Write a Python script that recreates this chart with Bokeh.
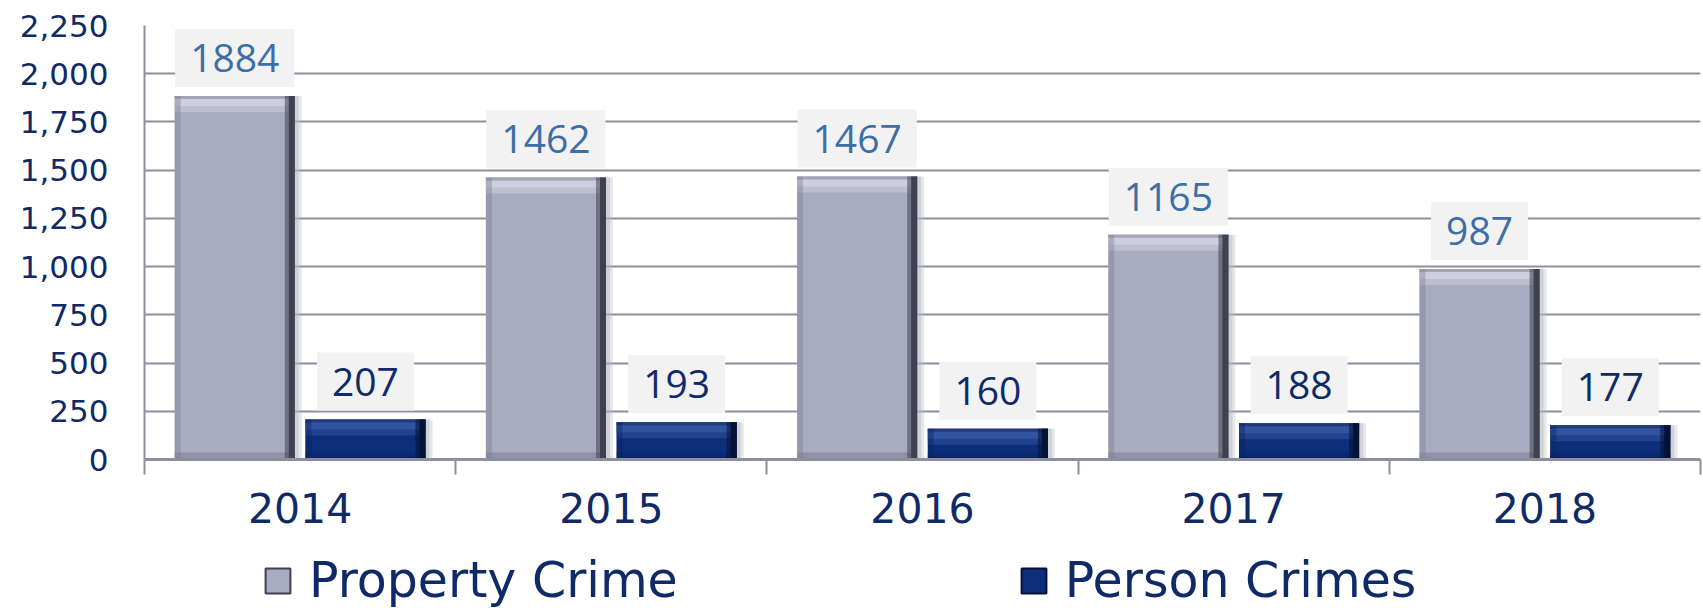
import numpy as np
from bokeh.plotting import figure
from bokeh.layouts import column
from bokeh.models import (Range1d, FixedTicker, NumeralTickFormatter, Legend,
                          LegendItem, ColumnDataSource)
from bokeh.core.properties import value
from bokeh.embed import file_html
from bokeh.resources import INLINE

# ---- data ----
years = ["2014", "2015", "2016", "2017", "2018"]
property_crime = [1884, 1462, 1467, 1165, 987]
person_crimes = [207, 193, 160, 188, 177]
y_ticks = [0, 250, 500, 750, 1000, 1250, 1500, 1750, 2000, 2250]
series_names = ["Property Crime", "Person Crimes"]

# ---- styling ----
NAVY = "#0f2a66"
GRID = "#8d8ea0"
Y_MAX = 2250
FRAME_H = 434
FRAME_W = 1556
DPP_Y = Y_MAX / FRAME_H          # data units per pixel (y)
DPP_X = len(years) / FRAME_W     # data units per pixel (x)
OFF = 0.21
BW = 0.386
PROP_COLORS = ("#a9abc0", "#d4d6e4", "#7a7c90", "#3f414f", "#b8b9c2")
PERS_COLORS = ("#0d2e7a", "#3a5ba4", "#0a2460", "#041236", "#b8b9c2")

centers = np.arange(len(years)) + 0.5
src = ColumnDataSource(dict(
    xp=centers - OFF, xq=centers + OFF,
    prop=property_crime, pers=person_crimes,
    prop_lbl=[str(v) for v in property_crime],
    pers_lbl=[str(v) for v in person_crimes],
))

p = figure(frame_width=FRAME_W, frame_height=FRAME_H,
           output_backend="svg", toolbar_location=None,
           x_range=Range1d(0, len(years)), y_range=Range1d(0, Y_MAX),
           min_border_left=144, min_border_right=3, min_border_top=25,
           min_border_bottom=76)
p.outline_line_color = None
p.background_fill_color = "white"
p.border_fill_color = "white"

# grid
p.xgrid.grid_line_color = None
p.ygrid.ticker = FixedTicker(ticks=y_ticks)
p.ygrid.grid_line_color = GRID
p.ygrid.grid_line_width = 2

# y axis
p.yaxis.ticker = FixedTicker(ticks=y_ticks)
p.yaxis.formatter = NumeralTickFormatter(format="0,0")
p.yaxis.major_tick_line_color = None
p.yaxis.minor_tick_line_color = None
p.yaxis.major_tick_out = 0
p.yaxis.major_tick_in = 0
p.yaxis.axis_line_color = GRID
p.yaxis.axis_line_width = 2
p.yaxis.major_label_standoff = 36
p.yaxis.major_label_text_font = "DejaVu Sans"
p.yaxis.major_label_text_font_size = "31px"
p.yaxis.major_label_text_color = NAVY

# x axis: labels at centres, ticks at boundaries
p.xaxis.ticker = FixedTicker(ticks=list(centers),
                             minor_ticks=list(range(len(years) + 1)))
p.xaxis.major_label_overrides = {float(c): y for c, y in zip(centers, years)}
p.xaxis.major_tick_line_color = None
p.xaxis.major_tick_out = 0
p.xaxis.major_tick_in = 0
p.xaxis.minor_tick_line_color = GRID
p.xaxis.minor_tick_line_width = 2
p.xaxis.minor_tick_out = 15
p.xaxis.minor_tick_in = 0
p.xaxis.axis_line_color = GRID
p.xaxis.axis_line_width = 3
p.xaxis.major_label_standoff = 18
p.xaxis.major_label_text_font = "DejaVu Sans"
p.xaxis.major_label_text_font_size = "41px"
p.xaxis.major_label_text_color = NAVY


def bevel_bar(xcol, ycol, colors):
    body, light, dark, darker, shade = colors
    xs = list(src.data[xcol])
    tops = list(src.data[ycol])
    n = len(tops)
    # soft shadow to the right
    p.vbar(x=[v + 7 * DPP_X for v in xs], top=tops, width=BW, bottom=0,
           fill_color=shade, fill_alpha=0.35, line_color=None)
    p.vbar(x=[v + 4 * DPP_X for v in xs], top=tops, width=BW, bottom=0,
           fill_color=shade, fill_alpha=0.45, line_color=None)
    r = p.vbar(x=xcol, top=ycol, width=BW, bottom=0, source=src,
               fill_color=body, line_color=None)
    # top highlight band
    p.vbar(x=xs, top=tops, bottom=[t - 16 * DPP_Y for t in tops],
           width=BW, fill_color=light, fill_alpha=0.45, line_color=None)
    p.vbar(x=xs, top=tops, bottom=[t - 10 * DPP_Y for t in tops],
           width=BW, fill_color=light, fill_alpha=0.7, line_color=None)
    p.vbar(x=xs, top=tops, bottom=[t - 3 * DPP_Y for t in tops],
           width=BW, fill_color=dark, fill_alpha=0.5, line_color=None)
    # bottom darker band
    p.vbar(x=xs, top=[7 * DPP_Y] * n, bottom=0,
           width=BW, fill_color=dark, fill_alpha=0.55, line_color=None)
    # left edge
    p.vbar(x=[v - BW / 2 + 3 * DPP_X for v in xs], top=tops, bottom=0,
           width=6 * DPP_X, fill_color=dark, fill_alpha=0.4, line_color=None)
    # right dark edge
    p.vbar(x=[v + BW / 2 - 5 * DPP_X for v in xs], top=tops, bottom=0,
           width=10 * DPP_X, fill_color=darker, fill_alpha=0.55, line_color=None)
    p.vbar(x=[v + BW / 2 - 3 * DPP_X for v in xs], top=tops, bottom=0,
           width=6 * DPP_X, fill_color=darker, line_color=None)
    return r


bevel_bar("xp", "prop", PROP_COLORS)
bevel_bar("xq", "pers", PERS_COLORS)

# data labels
common = dict(text_font=value("Open Sans"), text_font_size="39px",
              text_align="center", text_baseline="middle", y_offset=-38,
              background_fill_color="#f2f2f2", padding=15)
p.text(x="xp", y="prop", text="prop_lbl", source=src, text_color="#3d6ea5", **common)
p.text(x="xq", y="pers", text="pers_lbl", source=src, text_color=NAVY, **common)

# ---- legend strip (separate figure so it is not clipped by the chart frame) ----
LEG_H = 78
lf = figure(frame_width=1703, frame_height=LEG_H, output_backend="svg",
            toolbar_location=None, x_range=Range1d(0, 1), y_range=Range1d(0, 1),
            min_border=0)
lf.outline_line_color = None
lf.grid.visible = False
lf.xaxis.visible = False
lf.yaxis.visible = False
# swatch renderers (their single bar lies outside the strip's range, so only
# the legend swatch is seen)
sw_prop = lf.vbar(x=[-5], top=[-5], bottom=[-6], width=0.1,
                  fill_color=PROP_COLORS[0], line_color=PROP_COLORS[3], line_width=2)
sw_pers = lf.vbar(x=[-5], top=[-5], bottom=[-6], width=0.1,
                  fill_color=PERS_COLORS[0], line_color=PERS_COLORS[3], line_width=2)

legend = Legend(items=[LegendItem(label=series_names[0], renderers=[sw_prop]),
                       LegendItem(label=series_names[1], renderers=[sw_pers])],
                orientation="horizontal", location=(262, 4),
                label_text_font="DejaVu Sans", label_text_font_size="49px",
                label_text_color=NAVY, glyph_width=31, glyph_height=31,
                label_standoff=16, spacing=340, padding=0, margin=0,
                border_line_color=None, background_fill_alpha=0)
lf.add_layout(legend, "center")

layout = column(p, lf, spacing=0)
open("out.html", "w").write(file_html(layout, INLINE))
